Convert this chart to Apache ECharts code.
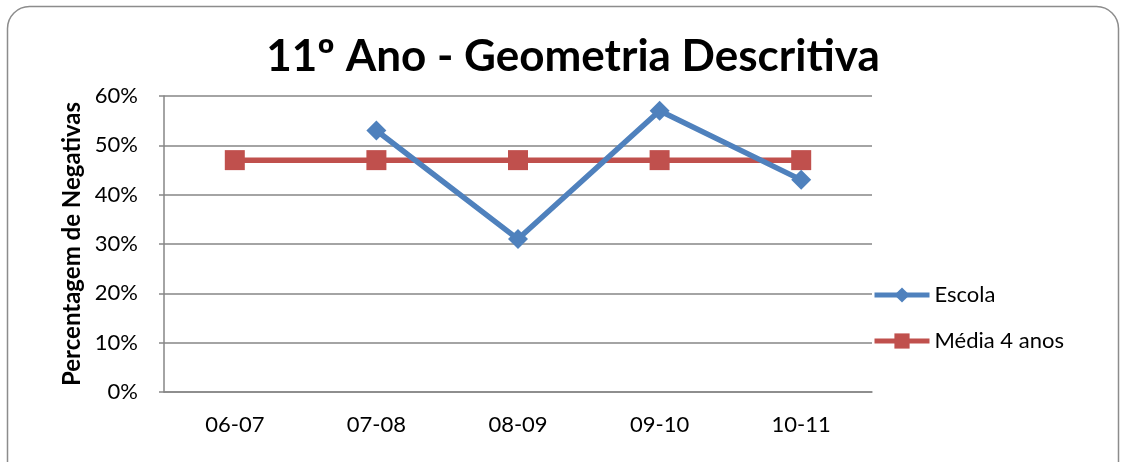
<!DOCTYPE html>
<html>
<head>
<meta charset="utf-8">
<script src="https://cdn.jsdelivr.net/npm/echarts@6/dist/echarts.min.js"></script>
<style>
  html, body { margin: 0; padding: 0; background: #ffffff; }
  #chart { width: 1126px; height: 462px; }
</style>
</head>
<body>
<div id="chart"></div>
<script>
// Percentagem de negativas por ano letivo
const categories = ['06-07', '07-08', '08-09', '09-10', '10-11'];
const escola = [null, 53, 31, 57, 43];
const media4Anos = [47, 47, 47, 47, 47];
const yTicks = [0, 10, 20, 30, 40, 50, 60];

const FONT = 'Lato, "Open Sans", sans-serif';
const chart = echarts.init(document.getElementById('chart'));

chart.setOption({
  backgroundColor: '#ffffff',
  animation: false,
  graphic: [{
    type: 'rect',
    shape: { x: 7.5, y: 6.5, width: 1111, height: 480, r: 22 },
    style: { fill: 'none', stroke: '#8c8c8c', lineWidth: 1.5 },
    silent: true
  }],
  title: {
    text: '11º Ano - Geometria Descritiva',
    left: 568,
    textAlign: 'center',
    top: 30,
    textStyle: { fontFamily: FONT, fontWeight: 'bold', fontSize: 44, color: '#000000' }
  },
  legend: {
    orient: 'vertical',
    left: 872,
    top: 284,
    padding: 0,
    itemWidth: 55,
    itemHeight: 19,
    itemGap: 24,
    itemStyle: { borderWidth: 0 },
    lineStyle: { width: 5 },
    textStyle: { fontFamily: FONT, fontSize: 22, color: '#000000' },
    data: ['Escola', 'Média 4 anos']
  },
  grid: { left: 164, right: 254, top: 96, bottom: 70 },
  xAxis: {
    type: 'category',
    data: categories,
    boundaryGap: true,
    axisLine: { lineStyle: { color: '#868686', width: 1.5 } },
    axisTick: { show: false },
    axisLabel: { fontFamily: FONT, fontSize: 22, color: '#000000', margin: 22 }
  },
  yAxis: {
    type: 'value',
    min: yTicks[0],
    max: yTicks[yTicks.length - 1],
    interval: 10,
    name: 'Percentagem de Negativas',
    nameLocation: 'middle',
    nameGap: 80,
    nameTextStyle: { fontFamily: FONT, fontWeight: 'bold', fontSize: 24, color: '#000000' },
    axisLine: { show: true, lineStyle: { color: '#868686', width: 1.5 } },
    axisTick: { show: true, length: 5, lineStyle: { color: '#868686', width: 1.5 } },
    splitLine: { lineStyle: { color: '#868686', width: 1.5 } },
    axisLabel: { fontFamily: FONT, fontSize: 22, color: '#000000', margin: 26, formatter: v => v + '%' }
  },
  series: [
    {
      name: 'Escola',
      type: 'line',
      data: escola,
      color: '#4F81BD',
      lineStyle: { width: 5.5, color: '#4F81BD' },
      symbol: 'diamond',
      symbolSize: 20,
      itemStyle: { color: '#4F81BD' },
      connectNulls: false,
      z: 3
    },
    {
      name: 'Média 4 anos',
      type: 'line',
      data: media4Anos,
      color: '#C0504D',
      lineStyle: { width: 5.5, color: '#C0504D' },
      symbol: 'rect',
      symbolSize: 20,
      itemStyle: { color: '#C0504D' },
      z: 2
    }
  ]
});
</script>
</body>
</html>
